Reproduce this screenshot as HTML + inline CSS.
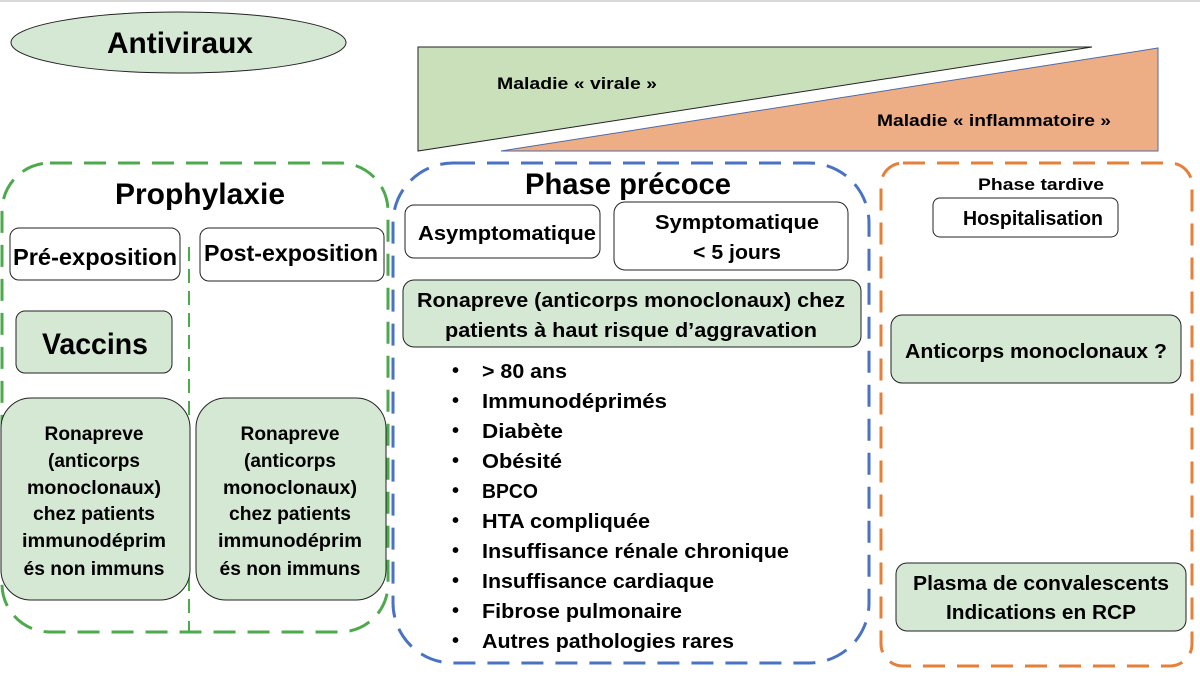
<!DOCTYPE html>
<html><head><meta charset="utf-8"><style>
html,body{margin:0;padding:0;background:#fff;}
svg{display:block;}
text{font-family:"Liberation Sans",sans-serif;font-weight:bold;fill:#000;}
</style></head><body>
<svg width="1200" height="677" viewBox="0 0 1200 677" xmlns="http://www.w3.org/2000/svg">
<rect x="0" y="0" width="1200" height="2" fill="#d8d8d8"/>
<ellipse cx="178.5" cy="42.5" rx="167.5" ry="30.5" fill="#d5e8d4" stroke="#222" stroke-width="1"/>
<text x="180" y="53" font-size="30" text-anchor="middle" textLength="146" lengthAdjust="spacingAndGlyphs">Antiviraux</text>
<polygon points="418,47 1092,47 418,151" fill="#c9e0bb" stroke="#222" stroke-width="1"/>
<polygon points="501,151 1158,48 1158,151" fill="#edae86" stroke="#4f6aa8" stroke-width="1"/>
<text x="577" y="89" font-size="17" text-anchor="middle" textLength="160" lengthAdjust="spacingAndGlyphs">Maladie « virale »</text>
<text x="994" y="126" font-size="17" text-anchor="middle" textLength="234" lengthAdjust="spacingAndGlyphs">Maladie « inflammatoire »</text>
<rect x="2" y="163" width="386" height="469" rx="48" fill="none" stroke="#4caa4c" stroke-width="3" stroke-dasharray="22,12"/>
<line x1="189" y1="247" x2="189" y2="632" stroke="#4caa4c" stroke-width="2" stroke-dasharray="14,8"/>
<rect x="393" y="163" width="476" height="500" rx="60" fill="none" stroke="#4a72c4" stroke-width="3" stroke-dasharray="22,12"/>
<rect x="881" y="163" width="311" height="503" rx="22" fill="none" stroke="#e57f3a" stroke-width="3" stroke-dasharray="22,12"/>
<text x="200" y="204" font-size="30" text-anchor="middle" textLength="170" lengthAdjust="spacingAndGlyphs">Prophylaxie</text>
<rect x="10" y="228" width="170" height="52" rx="9" fill="#fff" stroke="#222" stroke-width="1"/>
<text x="95" y="265" font-size="23" text-anchor="middle" textLength="164" lengthAdjust="spacingAndGlyphs">Pré-exposition</text>
<rect x="200" y="228" width="184" height="53" rx="9" fill="#fff" stroke="#222" stroke-width="1"/>
<text x="291" y="261" font-size="23" text-anchor="middle" textLength="174" lengthAdjust="spacingAndGlyphs">Post-exposition</text>
<rect x="16" y="311" width="156" height="62" rx="9" fill="#d5e8d4" stroke="#222" stroke-width="1"/>
<text x="95" y="354" font-size="30" text-anchor="middle" textLength="106" lengthAdjust="spacingAndGlyphs">Vaccins</text>
<g font-size="19" text-anchor="middle">
<rect x="1" y="398" width="189" height="202" rx="30" fill="#d5e8d4" stroke="#222" stroke-width="1"/>
<text x="94" y="440" textLength="99" lengthAdjust="spacingAndGlyphs">Ronapreve</text>
<text x="94" y="467" textLength="92" lengthAdjust="spacingAndGlyphs">(anticorps</text>
<text x="94" y="494" textLength="134" lengthAdjust="spacingAndGlyphs">monoclonaux)</text>
<text x="94" y="520" textLength="122" lengthAdjust="spacingAndGlyphs">chez patients</text>
<text x="94" y="547" textLength="144" lengthAdjust="spacingAndGlyphs">immunodéprim</text>
<text x="94" y="575" textLength="141" lengthAdjust="spacingAndGlyphs">és non immuns</text>
<rect x="196" y="398" width="190" height="202" rx="30" fill="#d5e8d4" stroke="#222" stroke-width="1"/>
<text x="290" y="440" textLength="99" lengthAdjust="spacingAndGlyphs">Ronapreve</text>
<text x="290" y="467" textLength="92" lengthAdjust="spacingAndGlyphs">(anticorps</text>
<text x="290" y="494" textLength="134" lengthAdjust="spacingAndGlyphs">monoclonaux)</text>
<text x="290" y="520" textLength="122" lengthAdjust="spacingAndGlyphs">chez patients</text>
<text x="290" y="547" textLength="144" lengthAdjust="spacingAndGlyphs">immunodéprim</text>
<text x="290" y="575" textLength="141" lengthAdjust="spacingAndGlyphs">és non immuns</text>
</g>
<text x="628" y="194" font-size="30" text-anchor="middle" textLength="206" lengthAdjust="spacingAndGlyphs">Phase précoce</text>
<rect x="405" y="205" width="195" height="53" rx="9" fill="#fff" stroke="#222" stroke-width="1"/>
<text x="507" y="240" font-size="20" text-anchor="middle" textLength="178" lengthAdjust="spacingAndGlyphs">Asymptomatique</text>
<rect x="614" y="202" width="234" height="68" rx="11" fill="#fff" stroke="#222" stroke-width="1"/>
<text x="737" y="229" font-size="20" text-anchor="middle" textLength="164" lengthAdjust="spacingAndGlyphs">Symptomatique</text>
<text x="737" y="259" font-size="20" text-anchor="middle" textLength="88" lengthAdjust="spacingAndGlyphs">&lt; 5 jours</text>
<rect x="403" y="280" width="458" height="67" rx="11" fill="#d5e8d4" stroke="#222" stroke-width="1"/>
<text x="631" y="307" font-size="20" text-anchor="middle" textLength="428" lengthAdjust="spacingAndGlyphs">Ronapreve (anticorps monoclonaux) chez</text>
<text x="631" y="337" font-size="20" text-anchor="middle" textLength="372" lengthAdjust="spacingAndGlyphs">patients à haut risque d’aggravation</text>
<g font-size="20">
<text x="452" y="377">•</text><text x="482" y="378" textLength="85" lengthAdjust="spacingAndGlyphs">&gt; 80 ans</text>
<text x="452" y="407">•</text><text x="482" y="408" textLength="185" lengthAdjust="spacingAndGlyphs">Immunodéprimés</text>
<text x="452" y="437">•</text><text x="482" y="438" textLength="81" lengthAdjust="spacingAndGlyphs">Diabète</text>
<text x="452" y="467">•</text><text x="482" y="468" textLength="80" lengthAdjust="spacingAndGlyphs">Obésité</text>
<text x="452" y="497">•</text><text x="482" y="498" textLength="56" lengthAdjust="spacingAndGlyphs">BPCO</text>
<text x="452" y="527">•</text><text x="482" y="528" textLength="168" lengthAdjust="spacingAndGlyphs">HTA compliquée</text>
<text x="452" y="557">•</text><text x="482" y="558" textLength="307" lengthAdjust="spacingAndGlyphs">Insuffisance rénale chronique</text>
<text x="452" y="587">•</text><text x="482" y="588" textLength="232" lengthAdjust="spacingAndGlyphs">Insuffisance cardiaque</text>
<text x="452" y="617">•</text><text x="482" y="618" textLength="200" lengthAdjust="spacingAndGlyphs">Fibrose pulmonaire</text>
<text x="452" y="647">•</text><text x="482" y="648" textLength="252" lengthAdjust="spacingAndGlyphs">Autres pathologies rares</text>
</g>
<text x="1041" y="190" font-size="17" text-anchor="middle" textLength="126" lengthAdjust="spacingAndGlyphs">Phase tardive</text>
<rect x="933" y="198" width="185" height="39" rx="7" fill="#fff" stroke="#222" stroke-width="1"/>
<text x="1033" y="225" font-size="20" text-anchor="middle" textLength="140" lengthAdjust="spacingAndGlyphs">Hospitalisation</text>
<rect x="891" y="315" width="290" height="68" rx="11" fill="#d5e8d4" stroke="#222" stroke-width="1"/>
<text x="1036" y="358" font-size="20" text-anchor="middle" textLength="262" lengthAdjust="spacingAndGlyphs">Anticorps monoclonaux ?</text>
<rect x="896" y="563" width="290" height="68" rx="11" fill="#d5e8d4" stroke="#222" stroke-width="1"/>
<text x="1041" y="590" font-size="20" text-anchor="middle" textLength="256" lengthAdjust="spacingAndGlyphs">Plasma de convalescents</text>
<text x="1041" y="619" font-size="20" text-anchor="middle" textLength="190" lengthAdjust="spacingAndGlyphs">Indications en RCP</text>
</svg>
</body></html>
